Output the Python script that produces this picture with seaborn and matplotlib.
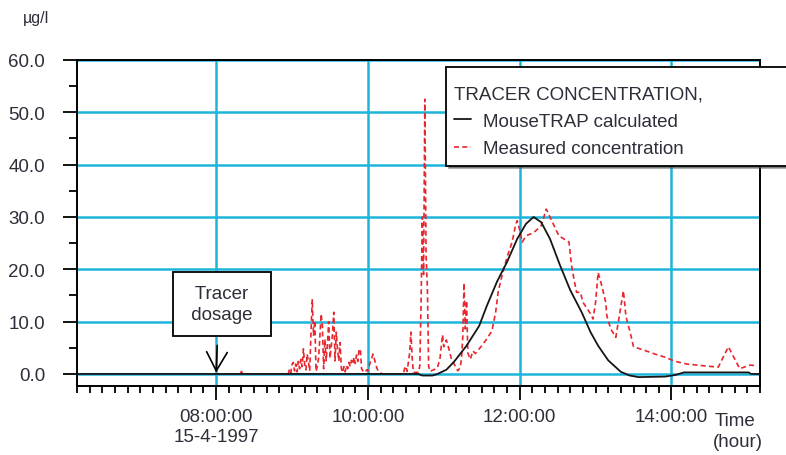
import pandas as pd
import matplotlib
matplotlib.use("Agg")
import matplotlib.pyplot as plt
import matplotlib.dates as mdates
from matplotlib.ticker import MultipleLocator, FixedLocator, FixedFormatter, FormatStrFormatter
import seaborn as sns

DAY = "1997-04-15"

# MouseTRAP calculated tracer concentration (ug/l)
calc_time = ["06:10", "10:40", "10:43", "10:51", "10:55", "11:02", "11:08", "11:18",
             "11:28", "11:34", "11:42", "11:50", "11:58", "12:05", "12:11", "12:17",
             "12:24", "12:32", "12:40", "12:49", "12:56", "13:02", "13:10", "13:20",
             "13:27", "13:34", "13:55", "14:03", "14:10", "15:01", "15:03", "15:10"]
calc_value = [0.0, 0.0, -0.3, -0.3, 0.0, 0.8, 2.3, 5.4,
              9.2, 13.0, 17.6, 21.4, 25.8, 28.7, 30.0, 29.0,
              25.8, 20.7, 16.0, 11.8, 8.0, 5.4, 2.6, 0.4,
              -0.3, -0.6, -0.5, -0.2, 0.3, 0.3, 0.0, 0.0]

# Measured tracer concentration (ug/l)
meas_time = ["08:00", "08:19", "08:20", "08:21", "08:57",
             "08:58", "08:59", "09:00", "09:01", "09:02", "09:03", "09:04", "09:05",
             "09:06", "09:07", "09:08", "09:09", "09:10", "09:11", "09:12", "09:13",
             "09:14", "09:15", "09:16", "09:17", "09:18", "09:19", "09:20", "09:21",
             "09:22", "09:23", "09:24", "09:25", "09:26", "09:27", "09:28", "09:29",
             "09:30", "09:31", "09:32", "09:33", "09:34", "09:35", "09:36", "09:37",
             "09:38", "09:39", "09:40", "09:41", "09:42", "09:43", "09:44", "09:45",
             "09:46", "09:47", "09:48", "09:49", "09:50", "09:51", "09:52", "09:53",
             "09:54", "09:55", "09:56", "09:57", "09:58", "09:59", "10:00", "10:01",
             "10:02", "10:03", "10:04", "10:05", "10:06", "10:07", "10:08", "10:10",
             "10:12", "10:28", "10:29", "10:30", "10:31", "10:33", "10:34", "10:35",
             "10:36", "10:40", "10:41", "10:42", "10:43", "10:44", "10:45", "10:46",
             "10:47", "10:48", "10:49", "10:52", "10:55", "10:57", "10:59", "11:00",
             "11:02", "11:04", "11:06", "11:09", "11:11", "11:13", "11:14", "11:15",
             "11:16", "11:17", "11:18", "11:19", "11:21", "11:23", "11:25", "11:29",
             "11:34", "11:38", "11:41", "11:43", "11:46", "11:50", "11:54", "11:57",
             "11:58", "12:00", "12:02", "12:05", "12:11", "12:17", "12:21", "12:31",
             "12:39", "12:41", "12:43", "12:45", "12:48", "12:50", "12:56", "12:58",
             "13:00", "13:02", "13:05", "13:08", "13:09", "13:12", "13:16", "13:18",
             "13:22", "13:24", "13:28", "13:30", "13:40", "13:47", "13:55", "14:03",
             "14:12", "14:24", "14:37", "14:45", "14:54", "15:02", "15:06"]
meas_value = [0.0, 0.0, 0.5, 0.0, 0.0,
              0.9, 0.2, 1.8, 2.2, 0.6, 1.9, 0.4, 2.4,
              1.0, 2.8, 1.4, 4.8, 1.8, 0.8, 3.8, 2.2,
              0.6, 8.0, 14.3, 7.3, 10.2, 0.5, 1.5, 3.0,
              7.0, 11.5, 9.2, 1.0, 6.6, 2.5, 5.7, 10.0,
              3.0, 5.2, 7.5, 11.8, 2.5, 8.0, 4.6, 2.5,
              6.0, 1.0, 0.3, 1.4, 0.4, 1.6, 1.0, 2.2,
              1.4, 2.6, 1.9, 3.2, 2.0, 3.6, 2.4, 4.6,
              4.8, 1.0, 0.6, 0.4, 0.3, 0.8, 0.6, 1.5,
              2.4, 3.0, 3.8, 3.0, 2.0, 1.2, 0.6, 0.2,
              0.0, 0.0, 1.0, 1.5, 0.5, 4.0, 8.0, 3.0,
              0.3, 0.3, 1.5, 13.0, 30.0, 19.0, 52.5, 22.6,
              16.8, 1.5, 0.5, 0.8, 1.2, 3.0, 7.5, 5.2,
              6.5, 4.8, 2.9, 1.5, 0.6, 1.2, 3.0, 7.0,
              17.4, 8.6, 14.0, 4.0, 2.8, 4.4, 3.9, 5.1,
              6.7, 8.2, 11.8, 15.7, 18.8, 22.3, 25.2, 28.7,
              29.3, 27.5, 25.2, 26.4, 27.0, 28.3, 31.5, 26.4,
              25.2, 20.7, 18.0, 15.6, 15.6, 13.7, 11.5, 10.5,
              13.7, 19.4, 16.8, 13.7, 11.0, 8.6, 7.0, 10.0,
              15.9, 11.0, 7.3, 5.2, 4.4, 3.8, 3.2, 2.4,
              1.9, 1.6, 1.3, 5.2, 1.0, 1.7, 1.6]

# Axis annotation values
y_ticks = [0, 10, 20, 30, 40, 50, 60]
x_ticks = ["08:00", "10:00", "12:00", "14:00"]
x_tick_labels = ["08:00:00\n15-4-1997", "10:00:00", "12:00:00", "14:00:00"]
x_range = ["06:10", "15:10"]


def stamps(times):
    return pd.to_datetime([f"{DAY} {t}" for t in times])


calc = pd.DataFrame({"time": stamps(calc_time), "value": calc_value})
meas = pd.DataFrame({"time": stamps(meas_time), "value": meas_value})

sns.set_theme(style="ticks")
plt.rcParams["font.family"] = ["Liberation Sans", "DejaVu Sans"]
plt.rcParams["text.color"] = "#2e2e3a"

GRID = "#1db4da"
TXT = "#2e2e3a"
FS = 13.5

fig = plt.figure(figsize=(7.86, 4.56), dpi=100)
fig.patch.set_facecolor("white")
ax = fig.add_axes([77 / 786, 1 - 387 / 456, 683 / 786, 326 / 456])

sns.lineplot(data=calc, x="time", y="value", ax=ax, color="#161616", lw=1.3,
             label="MouseTRAP calculated", zorder=4)
sns.lineplot(data=meas, x="time", y="value", ax=ax, color="#e8262e", lw=1.2,
             linestyle=(0, (3, 2)), label="Measured concentration", zorder=3)

xr = stamps(x_range)
ax.set_xlim(xr[0], xr[1])
ax.set_ylim(-2.3, 60)

ax.xaxis.set_major_locator(FixedLocator(mdates.date2num(stamps(x_ticks))))
ax.xaxis.set_major_formatter(FixedFormatter(x_tick_labels))
ax.xaxis.set_minor_locator(mdates.MinuteLocator(byminute=[0, 10, 20, 30, 40, 50]))
ax.yaxis.set_major_locator(FixedLocator(y_ticks))
ax.yaxis.set_major_formatter(FormatStrFormatter("%.1f"))
ax.yaxis.set_minor_locator(MultipleLocator(5))

ax.set_axisbelow(True)
ax.grid(which="major", color=GRID, lw=1.8)
ax.grid(which="minor", visible=False)

ax.tick_params(axis="x", which="major", direction="out", length=10, width=1.3,
               color="black", pad=6, labelsize=FS, labelcolor=TXT, bottom=True)
ax.tick_params(axis="x", which="minor", direction="out", length=5, width=1.3,
               color="black", bottom=True)
ax.tick_params(axis="y", which="major", direction="out", length=10, width=1.3,
               color="black", pad=13, labelsize=FS, labelcolor=TXT, left=True)
ax.tick_params(axis="y", which="minor", direction="out", length=6, width=1.3,
               color="black", left=True)
for lab in ax.get_xticklabels():
    lab.set_linespacing(1.25)

for side in ["left", "right", "top", "bottom"]:
    ax.spines[side].set_visible(True)
    ax.spines[side].set_color("black")
    ax.spines[side].set_linewidth(1.4)
ax.set_xlabel("")
ax.set_ylabel("")

# Legend box runs past the right edge of the figure; the leading blank title
# line with tight line spacing gives extra room above the heading.
leg = ax.legend(loc="upper left", bbox_to_anchor=(446 / 786, 0.50, 0.46, 1 - 68 / 456 - 0.50),
                bbox_transform=fig.transFigure, mode="expand", borderaxespad=0,
                title="\nTRACER CONCENTRATION,", alignment="left", fontsize=FS,
                title_fontsize=FS, frameon=True, fancybox=False, shadow=True,
                framealpha=1, edgecolor="black", borderpad=0.45, labelspacing=0.55,
                handlelength=0.9, handletextpad=0.6)
leg.get_frame().set_linewidth(1.3)
leg.set_zorder(10)
leg.get_title().set_linespacing(0.45)
for t in leg.get_texts():
    t.set_color(TXT)
leg.get_title().set_color(TXT)

ax.annotate(" Tracer \n dosage ", xy=(stamps(["08:00"])[0], 0),
            xytext=(222 / 786, 1 - 305 / 456), textcoords="figure fraction",
            ha="center", va="center", fontsize=FS, color=TXT, linespacing=1.3,
            bbox=dict(boxstyle="square,pad=0.72", fc="white", ec="black", lw=1.3),
            arrowprops=dict(arrowstyle="->,head_length=1.0,head_width=0.55",
                            color="black", lw=1.2, relpos=(0.445, 0.0),
                            shrinkA=6, shrinkB=1),
            zorder=6)

fig.text(23 / 786, 1 - 19 / 456, "µg/l", fontsize=11.5, color=TXT, va="center", ha="left")
fig.text(715 / 786, 1 - 422 / 456, "Time", fontsize=FS, color=TXT, va="center", ha="left")
fig.text(713 / 786, 1 - 443 / 456, "(hour)", fontsize=FS, color=TXT, va="center", ha="left")

fig.savefig("out.png", dpi=100, facecolor="white")
